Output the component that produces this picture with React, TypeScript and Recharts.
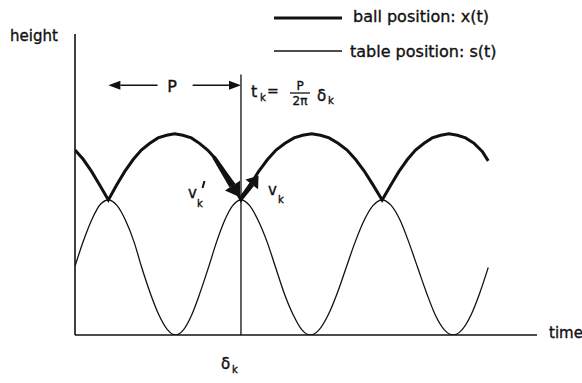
import { LineChart, Line, XAxis, YAxis, ReferenceLine, Legend } from 'recharts';

// time runs 0..54 along the axis; height 0 = table trough, 1 = table crest
const tableTime = [
  0, 1, 2, 3, 3.9, 4.9, 5.9, 6.9, 7.8, 8.8, 9.8, 10.8, 11.75, 12.7, 13.65, 14.6, 15.6,
  16.55, 17.5, 18.45, 19.4, 20.4, 21.4, 22.45, 23.45, 24.45, 25.5, 26.5, 27.5, 28.55,
  29.6, 30.65, 31.7, 32.75, 33.8, 34.85, 35.9, 36.95, 38, 39, 40.05, 41.1, 42.1, 43.15,
  44.2, 45.25, 46.3, 47.3, 48.3,
];
const tableHeight = [
  0.51, 0.7, 0.86, 0.97, 1, 0.96, 0.85, 0.69, 0.5, 0.31, 0.15, 0.04, 0, 0.04, 0.15, 0.31,
  0.5, 0.69, 0.85, 0.96, 1, 0.96, 0.85, 0.69, 0.5, 0.31, 0.15, 0.04, 0, 0.04, 0.15, 0.31,
  0.5, 0.69, 0.85, 0.96, 1, 0.96, 0.85, 0.69, 0.5, 0.31, 0.15, 0.04, 0, 0.04, 0.15, 0.31,
  0.5,
];

const ballTime = [
  0, 0.98, 1.95, 2.9, 3.9, 4.85, 5.8, 6.8, 7.75, 8.75, 9.7, 10.7, 11.65, 12.6, 13.6, 14.55,
  15.5, 16.5, 17.45, 18.45, 19.4, 20.45, 21.45, 22.5, 23.5, 24.55, 25.6, 26.6, 27.65, 28.7,
  29.7, 30.75, 31.8, 32.8, 33.85, 34.85, 35.9, 36.9, 37.85, 38.85, 39.8, 40.8, 41.75, 42.75,
  43.7, 44.7, 45.65, 46.65, 47.6, 48.3,
];
const ballHeight = [
  1.37, 1.3, 1.21, 1.11, 1, 1.11, 1.21, 1.3, 1.37, 1.42, 1.46, 1.48, 1.49, 1.48, 1.46, 1.42,
  1.37, 1.3, 1.21, 1.11, 1, 1.11, 1.21, 1.3, 1.37, 1.42, 1.46, 1.48, 1.49, 1.48, 1.46, 1.42,
  1.37, 1.3, 1.21, 1.11, 1, 1.11, 1.21, 1.3, 1.37, 1.42, 1.46, 1.48, 1.49, 1.48, 1.46, 1.42,
  1.36, 1.29,
];

const seriesNames = ['ball position: x(t)', 'table position: s(t)'];

// the k-th impact and the annotations around it
const impactTime = 19.4;
const markerTop = 1.93;
const periodY = 1.85;
const periodLeft = [9.65, 3.9]; // tail, head
const periodRight = [13.75, 19.4]; // tail, head
const vBefore = [[16.2, 1.32], [19.3, 1.02]];
const vAfter = [[19.5, 1.02], [21.45, 1.18]];

const tableData = tableTime.map((t, i) => ({ t, s: tableHeight[i] }));
const ballData = ballTime.map((t, i) => ({ t, x: ballHeight[i] }));

const INK = '#111';
const FONT = '"DejaVu Sans", sans-serif';
// the original lettering is a bit heavier than DejaVu regular
const HEAVY = { stroke: INK, strokeWidth: 0.35 };

function arrowShape(w0: number, w1: number, headLen: number, headHalf: number) {
  // eslint-disable-next-line @typescript-eslint/no-explicit-any
  return (props: any) => {
    const { x1, y1, x2, y2 } = props;
    const len = Math.hypot(x2 - x1, y2 - y1) || 1;
    const ux = (x2 - x1) / len;
    const uy = (y2 - y1) / len;
    const nx = -uy;
    const ny = ux;
    const bx = x2 - ux * headLen;
    const by = y2 - uy * headLen;
    const pts = (arr: number[][]) => arr.map(p => p.join(',')).join(' ');
    const shaft = [
      [x1 + (nx * w0) / 2, y1 + (ny * w0) / 2],
      [bx + (nx * w1) / 2, by + (ny * w1) / 2],
      [bx - (nx * w1) / 2, by - (ny * w1) / 2],
      [x1 - (nx * w0) / 2, y1 - (ny * w0) / 2],
    ];
    const head = [
      [x2, y2],
      [bx + nx * headHalf, by + ny * headHalf],
      [bx - nx * headHalf, by - ny * headHalf],
    ];
    return (
      <g>
        <polygon points={pts(shaft)} fill={INK} />
        <polygon points={pts(head)} fill={INK} />
      </g>
    );
  };
}

// eslint-disable-next-line @typescript-eslint/no-explicit-any
function DeltaTick({ x, y }: any) {
  return (
    <g fontFamily={FONT} fill={INK} {...HEAVY}>
      <text x={x - 20} y={y + 26} fontSize={15}>δ</text>
      <text x={x - 9} y={y + 30} fontSize={10}>k</text>
    </g>
  );
}

// eslint-disable-next-line @typescript-eslint/no-explicit-any
function LegendBox({ payload }: any) {
  const items = [...(payload ?? [])].sort(
    (a, b) => seriesNames.indexOf(a.value) - seriesNames.indexOf(b.value),
  );
  return (
    <svg width={260} height={66} style={{ display: 'block' }}>
      {items.map((e: { value: string }, i: number) => (
        <g key={e.value}>
          <line
            x1={0} x2={68} y1={18 + i * 33} y2={18 + i * 33}
            stroke={INK} strokeWidth={i === 0 ? 3 : 1.3}
          />
          <text
            x={79 - i * 3} y={22 + i * 35} fontSize={16} fontFamily={FONT} fill={INK} {...HEAVY}
          >
            {e.value}
          </text>
        </g>
      ))}
    </svg>
  );
}

export default function App() {
  return (
    <div style={{ position: 'absolute', left: 0, top: 0, width: 582, height: 383, background: '#fff' }}>
      <LineChart width={582} height={383} margin={{ top: 34, right: 45, bottom: 47, left: 74 }}>
        <XAxis
          type="number" dataKey="t" domain={[0, 54]} allowDataOverflow
          ticks={[impactTime]} tickLine={false} tick={<DeltaTick />} height={1}
          axisLine={{ stroke: INK, strokeWidth: 1.6 }}
        />
        <YAxis
          type="number" domain={[0, 2.23]} allowDataOverflow width={1}
          tick={false} tickLine={false} axisLine={{ stroke: INK, strokeWidth: 1.6 }}
        />
        <Legend
          layout="horizontal" align="center" verticalAlign="middle"
          wrapperStyle={{ left: 274, top: 0, width: 260, height: 66 }}
          content={<LegendBox />}
        />
        <ReferenceLine
          segment={[{ x: impactTime, y: 0 }, { x: impactTime, y: markerTop }]}
          stroke={INK} strokeWidth={1.3}
        />
        <ReferenceLine
          segment={[{ x: periodLeft[0], y: periodY }, { x: periodLeft[1], y: periodY }]}
          shape={arrowShape(1.4, 1.4, 12, 4.5)}
        />
        <ReferenceLine
          segment={[{ x: periodRight[0], y: periodY }, { x: periodRight[1], y: periodY }]}
          shape={arrowShape(1.4, 1.4, 12, 4.5)}
        />
        <Line
          data={tableData} dataKey="s" name={seriesNames[1]} type="monotone"
          stroke={INK} strokeWidth={1.3} dot={false} isAnimationActive={false}
        />
        <Line
          data={ballData} dataKey="x" name={seriesNames[0]} type="linear"
          stroke={INK} strokeWidth={3} dot={false} isAnimationActive={false}
        />
        <ReferenceLine
          segment={[{ x: vBefore[0][0], y: vBefore[0][1] }, { x: vBefore[1][0], y: vBefore[1][1] }]}
          shape={arrowShape(3.5, 7, 14, 9)}
        />
        <ReferenceLine
          segment={[{ x: vAfter[0][0], y: vAfter[0][1] }, { x: vAfter[1][0], y: vAfter[1][1] }]}
          shape={arrowShape(4.5, 5.5, 11, 8)}
        />
      </LineChart>
      <svg
        width={582} height={383}
        style={{ position: 'absolute', left: 0, top: 0, pointerEvents: 'none' }}
        fontFamily={FONT} fill={INK} {...HEAVY}
      >
        <text x={10} y={41} fontSize={15}>height</text>
        <text x={549} y={338} fontSize={15}>time</text>
        <text x={172} y={92} fontSize={16} textAnchor="middle">P</text>
        <text x={251} y={97} fontSize={16}>t</text>
        <text x={260} y={101} fontSize={10}>k</text>
        <text x={267} y={96} fontSize={14}>=</text>
        <text x={300} y={89.5} fontSize={12} textAnchor="middle">P</text>
        <line x1={290} x2={310} y1={93} y2={93} stroke={INK} strokeWidth={1.3} />
        <text x={300} y={105} fontSize={12} textAnchor="middle">2π</text>
        <text x={317} y={101} fontSize={15}>δ</text>
        <text x={328} y={104} fontSize={10}>k</text>
        <text x={188} y={198} fontSize={15}>v</text>
        <line x1={204.5} y1={181} x2={202.5} y2={188} stroke={INK} strokeWidth={2} />
        <text x={197} y={207} fontSize={10}>k</text>
        <text x={268} y={195} fontSize={15}>v</text>
        <text x={278} y={203} fontSize={10}>k</text>
      </svg>
    </div>
  );
}
